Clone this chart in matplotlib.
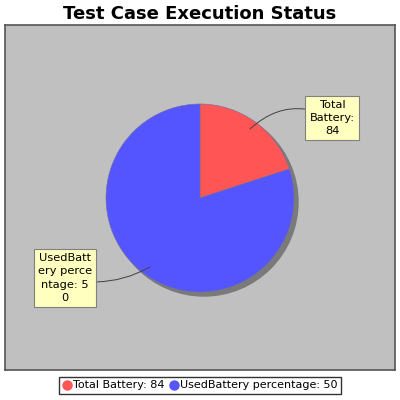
import matplotlib
matplotlib.use("Agg")
import matplotlib.pyplot as plt
from matplotlib.patches import Circle
from matplotlib.lines import Line2D

# chart data (slice shares, labels as shown)
categories = ["Total Battery: 84", "UsedBattery percentage: 50"]
slice_values = [20, 80]
label_lines = ["Total\nBattery:\n84", "UsedBatt\nery perce\nntage: 5\n0"]
colors = ["#FF5555", "#5555FF"]
title = "Test Case Execution Status"

W, H = 400, 400
fig = plt.figure(figsize=(4, 4), dpi=100)
fig.patch.set_facecolor("white")

# plot area in pixels: x 5..395, y 25..370 (from top)
px0, py0, px1, py1 = 5, 25, 395, 370
ax = fig.add_axes([px0 / W, 1 - py1 / H, (px1 - px0) / W, (py1 - py0) / H])
ax.set_facecolor("#C0C0C0")
ax.set_xlim(0, px1 - px0)
ax.set_ylim(0, py1 - py0)
ax.set_xticks([])
ax.set_yticks([])
for s in ax.spines.values():
    s.set_color("#555555")
    s.set_linewidth(1.2)


def to_data(x, y):
    # picture pixel -> axes data
    return x - px0, py1 - y


cx, cy = to_data(200, 198)
r = 94

# shadow
ax.add_patch(Circle((cx + 4, cy - 4), r, color="#7A7A7A", zorder=1))
wedges, _ = ax.pie(slice_values, colors=colors, startangle=90, counterclock=False,
                   center=(cx, cy), radius=r, frame=True,
                   wedgeprops=dict(linewidth=0.4, edgecolor="#7070A0", zorder=2))
ax.set_xlim(0, px1 - px0)
ax.set_ylim(0, py1 - py0)
ax.set_aspect("auto")

# section labels with leader lines
box = dict(boxstyle="square,pad=0.35", fc="#FFFFC0", ec="#808080", lw=0.8)
label_pos = [to_data(332, 118), to_data(65, 278)]
point_pos = [to_data(250, 129), to_data(150, 267)]
rads = [0.35, 0.2]
for txt, lp, pp, rad in zip(label_lines, label_pos, point_pos, rads):
    ax.annotate(txt, xy=pp, xytext=lp, ha="center", va="center", fontsize=8.2,
                linespacing=1.4, bbox=box, zorder=5,
                arrowprops=dict(arrowstyle="-", color="#404040", lw=0.7,
                                connectionstyle="arc3,rad=%s" % rad,
                                shrinkA=0, shrinkB=0))

fig.text(0.5, 1 - 14 / H, title, ha="center", va="center",
         fontsize=13, fontweight="bold")

handles = [Line2D([], [], marker="o", ls="", color=c, markersize=6.5) for c in colors]
leg = fig.legend(handles, categories, loc="center", bbox_to_anchor=(0.5, 1 - 385.5 / H),
                 ncol=2, frameon=True, fancybox=False, fontsize=8,
                 handletextpad=0.2, columnspacing=0.4, handlelength=0.8,
                 borderpad=0.3, borderaxespad=0)
leg.get_frame().set_edgecolor("black")
leg.get_frame().set_linewidth(1.0)

fig.savefig("out.png", dpi=100)
